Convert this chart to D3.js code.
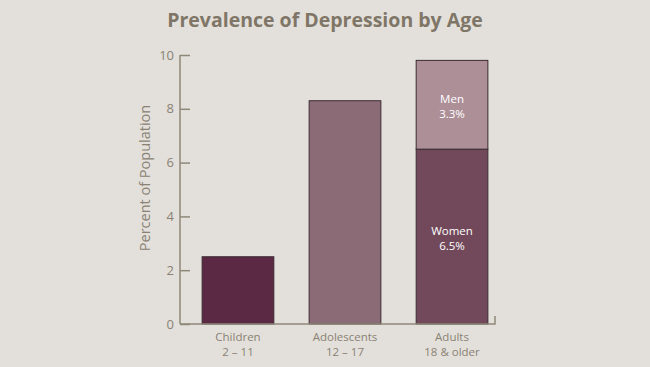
<!DOCTYPE html>
<html><head><meta charset="utf-8">
<script src="https://cdn.jsdelivr.net/npm/d3@7"></script>
<style>
html,body{margin:0;padding:0;background:#e3e0db;}
svg{display:block;font-family:"Open Sans","Noto Sans",sans-serif;}
</style></head>
<body><svg id="c" width="650" height="367"></svg>
<script>
const categories = ["Children", "Adolescents", "Adults"];
const subLabels = ["2 – 11", "12 – 17", "18 & older"];
const women = [2.5, 8.3, 6.5];
const men = [0, 0, 3.3];
const segLabels = ["Women", "Men"];
const yTicks = [0, 2, 4, 6, 8, 10];
const barColors = ["#5c2944", "#8b6b76", "#72495b"];
const menColor = "#ad8f98";

const svg = d3.select("#c");
const axisColor = "#8f8879";
const textColor = "#8a8274";

const y = d3.scaleLinear().domain([0, 10]).range([324, 55]);
const x = d3.scaleBand().domain(categories).range([185, 505]).paddingInner(0.33).paddingOuter(0.16);

svg.append("text").attr("x", 325).attr("y", 27).attr("text-anchor", "middle")
  .attr("font-size", 19.5).attr("font-weight", "bold").attr("fill", "#7f7667")
  .text("Prevalence of Depression by Age");

// bars
const g = svg.append("g");
categories.forEach((c, i) => {
  g.append("rect").attr("x", x(c)).attr("width", x.bandwidth())
    .attr("y", y(women[i])).attr("height", y(0) - y(women[i]))
    .attr("fill", barColors[i]).attr("stroke", "#3b2a31").attr("stroke-width", 1);
  if (men[i] > 0) {
    const top = women[i] + men[i];
    g.append("rect").attr("x", x(c)).attr("width", x.bandwidth())
      .attr("y", y(top)).attr("height", y(women[i]) - y(top))
      .attr("fill", menColor).attr("stroke", "#3b2a31").attr("stroke-width", 1);
    const cx = x(c) + x.bandwidth() / 2;
    const mMid = y(women[i] + men[i] / 2);
    const wMid = y(women[i] / 2);
    [[segLabels[1], men[i], mMid], [segLabels[0], women[i], wMid]].forEach(([lab, v, my]) => {
      g.append("text").attr("x", cx).attr("y", my - 2).attr("text-anchor", "middle")
        .attr("font-size", 11.5).attr("fill", "#ffffff").text(lab);
      g.append("text").attr("x", cx).attr("y", my + 13).attr("text-anchor", "middle")
        .attr("font-size", 11.5).attr("fill", "#ffffff").text(v.toFixed(1) + "%");
    });
  }
});

// y axis
const yAxis = d3.axisLeft(y).tickValues(yTicks).tickSize(-10);
const ya = svg.append("g").attr("transform", "translate(180,0)").call(yAxis);
ya.select(".domain").attr("stroke", axisColor).attr("stroke-width", 1.5).attr("d", "M0," + y(10) + "V" + y(0));
ya.selectAll(".tick line").attr("stroke", axisColor).attr("stroke-width", 1.5);
ya.selectAll(".tick text").attr("fill", textColor).attr("font-size", 13)
  .attr("font-family", "'Open Sans','Noto Sans',sans-serif").attr("x", -6);

// x axis line
svg.append("path").attr("d", "M180," + y(0) + "H495V" + (y(0) - 8))
  .attr("fill", "none").attr("stroke", axisColor).attr("stroke-width", 1.5);

// category labels
categories.forEach((c, i) => {
  const cx = x(c) + x.bandwidth() / 2;
  svg.append("text").attr("x", cx).attr("y", 341).attr("text-anchor", "middle")
    .attr("font-size", 11.5).attr("fill", textColor).text(c);
  svg.append("text").attr("x", cx).attr("y", 356).attr("text-anchor", "middle")
    .attr("font-size", 11.5).attr("fill", textColor).text(subLabels[i]);
});

// y label
svg.append("text").attr("transform", "translate(150,178) rotate(-90)")
  .attr("text-anchor", "middle").attr("font-size", 14.5).attr("fill", textColor)
  .text("Percent of Population");
</script></body></html>
